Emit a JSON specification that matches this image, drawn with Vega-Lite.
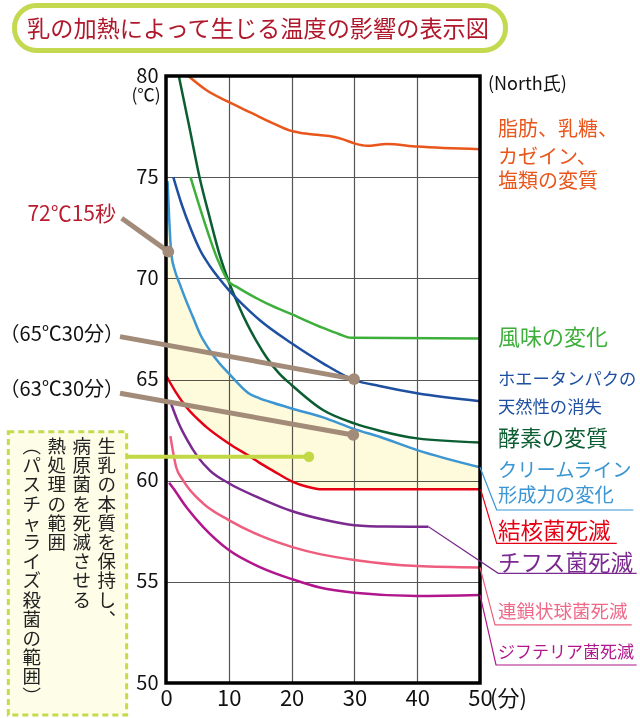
{
  "$schema": "https://vega.github.io/schema/vega-lite/v6.json",
  "width": 314,
  "height": 607,
  "autosize": {"type": "none"},
  "padding": {"left": 166, "top": 76, "right": 160, "bottom": 35},
  "background": "white",
  "config": {
    "font": "Noto Sans CJK JP",
    "view": {"stroke": null},
    "axisX": {"tickCount": 5, "grid": true, "gridColor": "#555", "gridWidth": 1.2, "ticks": false, "domain": false,
      "labelFontSize": 22, "labelPadding": 5, "labelColor": "#111", "labelFlush": false, "labelOverlap": false, "labelBound": false, "labelFont": "Noto Sans CJK JP"},
    "axisY": {"tickCount": 6, "grid": true, "gridColor": "#555", "gridWidth": 1.2, "ticks": false, "domain": false,
      "labelFontSize": 20, "labelPadding": 8, "labelColor": "#111", "labelFlush": false, "labelOverlap": false, "labelBound": false, "labelFont": "Noto Sans CJK JP"}
  },
  "resolve": {"scale": {"color": "independent"}},
  "datasets": {
    "fill": [
      {"x": 0.25, "top": 74.8, "bot": 65.1},
      {"x": 0.5, "top": 73.0, "bot": 65.0},
      {"x": 0.85, "top": 71.2, "bot": 64.8},
      {"x": 1.4, "top": 70.4, "bot": 64.45},
      {"x": 2.15, "top": 69.75, "bot": 64.1},
      {"x": 3.2, "top": 68.9, "bot": 63.65},
      {"x": 4.27, "top": 68.1, "bot": 63.25},
      {"x": 5.5, "top": 67.2, "bot": 62.9},
      {"x": 6.94, "top": 66.46, "bot": 62.5},
      {"x": 8.5, "top": 65.8, "bot": 62.15},
      {"x": 10, "top": 65.3, "bot": 61.84},
      {"x": 11.5, "top": 64.8, "bot": 61.5},
      {"x": 13.04, "top": 64.35, "bot": 61.2},
      {"x": 14.9, "top": 64.07, "bot": 60.88},
      {"x": 16.5, "top": 63.9, "bot": 60.6},
      {"x": 20, "top": 63.57, "bot": 59.97},
      {"x": 22.5, "top": 63.35, "bot": 59.7},
      {"x": 25, "top": 63.13, "bot": 59.57},
      {"x": 30, "top": 62.55, "bot": 59.57},
      {"x": 34, "top": 62.17, "bot": 59.57},
      {"x": 40, "top": 61.51, "bot": 59.57},
      {"x": 50, "top": 60.66, "bot": 59.57}
    ],
    "curves": [
      {"s": "fat", "x": 3.55, "y": 80},
      {"s": "fat", "x": 6.4, "y": 79.31},
      {"s": "fat", "x": 9.87, "y": 78.73},
      {"s": "fat", "x": 13.7, "y": 78.16},
      {"s": "fat", "x": 16.8, "y": 77.7},
      {"s": "fat", "x": 19.8, "y": 77.3},
      {"s": "fat", "x": 21.3, "y": 77.2},
      {"s": "fat", "x": 24.4, "y": 77.08},
      {"s": "fat", "x": 26.6, "y": 77.0},
      {"s": "fat", "x": 28.2, "y": 76.87},
      {"s": "fat", "x": 30, "y": 76.67},
      {"s": "fat", "x": 32, "y": 76.55},
      {"s": "fat", "x": 35.1, "y": 76.64},
      {"s": "fat", "x": 40, "y": 76.51},
      {"s": "fat", "x": 50, "y": 76.38},

      {"s": "enzyme", "x": 2.04, "y": 80},
      {"s": "enzyme", "x": 3.7, "y": 77.5},
      {"s": "enzyme", "x": 5.34, "y": 75},
      {"s": "enzyme", "x": 7, "y": 72.95},
      {"s": "enzyme", "x": 8.5, "y": 71.2},
      {"s": "enzyme", "x": 10, "y": 69.83},
      {"s": "enzyme", "x": 11.5, "y": 68.7},
      {"s": "enzyme", "x": 13, "y": 67.7},
      {"s": "enzyme", "x": 14.5, "y": 66.85},
      {"s": "enzyme", "x": 16, "y": 66.1},
      {"s": "enzyme", "x": 18, "y": 65.3},
      {"s": "enzyme", "x": 20, "y": 64.73},
      {"s": "enzyme", "x": 25, "y": 63.49},
      {"s": "enzyme", "x": 30, "y": 62.83},
      {"s": "enzyme", "x": 34, "y": 62.47},
      {"s": "enzyme", "x": 40, "y": 62.09},
      {"s": "enzyme", "x": 50, "y": 61.89},

      {"s": "flavor", "x": 3.9, "y": 75},
      {"s": "flavor", "x": 6, "y": 72.9},
      {"s": "flavor", "x": 8.26, "y": 70.9},
      {"s": "flavor", "x": 10, "y": 69.83},
      {"s": "flavor", "x": 11.26, "y": 69.58},
      {"s": "flavor", "x": 13.5, "y": 69.17},
      {"s": "flavor", "x": 16.03, "y": 68.76},
      {"s": "flavor", "x": 20.27, "y": 68.19},
      {"s": "flavor", "x": 25, "y": 67.55},
      {"s": "flavor", "x": 27.5, "y": 67.25},
      {"s": "flavor", "x": 29.5, "y": 67.06},
      {"s": "flavor", "x": 50, "y": 67.03},

      {"s": "whey", "x": 1.16, "y": 75},
      {"s": "whey", "x": 2.5, "y": 73.65},
      {"s": "whey", "x": 4, "y": 72.4},
      {"s": "whey", "x": 5.5, "y": 71.35},
      {"s": "whey", "x": 7, "y": 70.6},
      {"s": "whey", "x": 8.5, "y": 69.98},
      {"s": "whey", "x": 10, "y": 69.42},
      {"s": "whey", "x": 12.4, "y": 68.65},
      {"s": "whey", "x": 14.9, "y": 67.94},
      {"s": "whey", "x": 20, "y": 66.79},
      {"s": "whey", "x": 25, "y": 65.8},
      {"s": "whey", "x": 30, "y": 64.97},
      {"s": "whey", "x": 34, "y": 64.68},
      {"s": "whey", "x": 40, "y": 64.32},
      {"s": "whey", "x": 50, "y": 63.93},

      {"s": "cream", "x": 0.25, "y": 74.8},
      {"s": "cream", "x": 0.5, "y": 73.0},
      {"s": "cream", "x": 0.85, "y": 71.2},
      {"s": "cream", "x": 1.4, "y": 70.4},
      {"s": "cream", "x": 2.15, "y": 69.75},
      {"s": "cream", "x": 3.2, "y": 68.9},
      {"s": "cream", "x": 4.27, "y": 68.1},
      {"s": "cream", "x": 5.5, "y": 67.2},
      {"s": "cream", "x": 6.94, "y": 66.46},
      {"s": "cream", "x": 8.5, "y": 65.8},
      {"s": "cream", "x": 10, "y": 65.3},
      {"s": "cream", "x": 11.5, "y": 64.8},
      {"s": "cream", "x": 13.04, "y": 64.35},
      {"s": "cream", "x": 14.9, "y": 64.07},
      {"s": "cream", "x": 16.5, "y": 63.9},
      {"s": "cream", "x": 20, "y": 63.57},
      {"s": "cream", "x": 25, "y": 63.13},
      {"s": "cream", "x": 30, "y": 62.55},
      {"s": "cream", "x": 34, "y": 62.17},
      {"s": "cream", "x": 40, "y": 61.51},
      {"s": "cream", "x": 50, "y": 60.66},

      {"s": "tb", "x": 0.1, "y": 65.15},
      {"s": "tb", "x": 1.5, "y": 64.4},
      {"s": "tb", "x": 3.2, "y": 63.65},
      {"s": "tb", "x": 6.4, "y": 62.66},
      {"s": "tb", "x": 10, "y": 61.84},
      {"s": "tb", "x": 13.85, "y": 61.1},
      {"s": "tb", "x": 14.9, "y": 60.88},
      {"s": "tb", "x": 17, "y": 60.5},
      {"s": "tb", "x": 20, "y": 59.97},
      {"s": "tb", "x": 22.5, "y": 59.7},
      {"s": "tb", "x": 24.8, "y": 59.57},
      {"s": "tb", "x": 50, "y": 59.57},

      {"s": "typhoid", "x": 0.7, "y": 63.9},
      {"s": "typhoid", "x": 2, "y": 62.85},
      {"s": "typhoid", "x": 3.3, "y": 62.05},
      {"s": "typhoid", "x": 5, "y": 61.2},
      {"s": "typhoid", "x": 7, "y": 60.5},
      {"s": "typhoid", "x": 10, "y": 59.87},
      {"s": "typhoid", "x": 15, "y": 59.13},
      {"s": "typhoid", "x": 20, "y": 58.5},
      {"s": "typhoid", "x": 25, "y": 58.08},
      {"s": "typhoid", "x": 30, "y": 57.8},
      {"s": "typhoid", "x": 35, "y": 57.73},
      {"s": "typhoid", "x": 41.8, "y": 57.72},

      {"s": "strep", "x": 0.7, "y": 62.2},
      {"s": "strep", "x": 1.6, "y": 60.69},
      {"s": "strep", "x": 2.7, "y": 60.03},
      {"s": "strep", "x": 5.9, "y": 58.88},
      {"s": "strep", "x": 10, "y": 58.05},
      {"s": "strep", "x": 15.4, "y": 57.23},
      {"s": "strep", "x": 20, "y": 56.73},
      {"s": "strep", "x": 24.5, "y": 56.37},
      {"s": "strep", "x": 30, "y": 56.08},
      {"s": "strep", "x": 40, "y": 55.78},
      {"s": "strep", "x": 50, "y": 55.71},

      {"s": "diph", "x": 0.5, "y": 59.9},
      {"s": "diph", "x": 1.1, "y": 59.65},
      {"s": "diph", "x": 3.2, "y": 58.71},
      {"s": "diph", "x": 5.9, "y": 57.72},
      {"s": "diph", "x": 10, "y": 56.57},
      {"s": "diph", "x": 15.4, "y": 55.67},
      {"s": "diph", "x": 20, "y": 55.14},
      {"s": "diph", "x": 24.5, "y": 54.72},
      {"s": "diph", "x": 30, "y": 54.46},
      {"s": "diph", "x": 40, "y": 54.3},
      {"s": "diph", "x": 50, "y": 54.35}
    ],
    "frame": [{"x1": 0, "x2": 50, "y1": 50, "y2": 80}],
    "leaders": [
      {"s": "cream", "x": 50, "y": 60.66},
      {"s": "cream", "x": 52.66, "y": 58.55},
      {"s": "cream", "x": 74.41, "y": 58.55},
      {"s": "tb", "x": 50.1, "y": 59.57},
      {"s": "tb", "x": 52.66, "y": 56.9},
      {"s": "tb", "x": 71.77, "y": 56.9},
      {"s": "typhoid", "x": 41.8, "y": 57.72},
      {"s": "typhoid", "x": 52.91, "y": 55.42},
      {"s": "typhoid", "x": 74.95, "y": 55.42},
      {"s": "strep", "x": 50, "y": 55.71},
      {"s": "strep", "x": 52.39, "y": 52.87},
      {"s": "strep", "x": 74.16, "y": 52.87},
      {"s": "diph", "x": 50, "y": 54.35},
      {"s": "diph", "x": 52.55, "y": 50.89},
      {"s": "diph", "x": 74.95, "y": 50.89}
    ],
    "ann": [
      {"a": "72", "x": -7.05, "y": 72.97},
      {"a": "72", "x": 0.37, "y": 71.32},
      {"a": "65", "x": -7.32, "y": 67.12},
      {"a": "65", "x": 29.94, "y": 65.02},
      {"a": "63", "x": -7.32, "y": 64.32},
      {"a": "63", "x": 29.82, "y": 62.26}
    ],
    "anndots": [
      {"x": 0.37, "y": 71.32},
      {"x": 29.94, "y": 65.02},
      {"x": 29.82, "y": 62.26}
    ],
    "box": [{"x1": -25.11, "x2": -6.26, "y1": 62.42, "y2": 48.42}],
    "pointer": [{"x": -6.26, "y": 61.18}, {"x": 22.77, "y": 61.18}],
    "pointerdot": [{"x": 22.77, "y": 61.18}],
    "vtext": [
      {"t": ["生", "乳", "の", "本", "質", "を", "保", "持", "し", "︑"], "x": -9.44, "y": 62.11},
      {"t": ["病", "原", "菌", "を", "死", "滅", "さ", "せ", "る"], "x": -13.42, "y": 62.11},
      {"t": ["熱", "処", "理", "の", "範", "囲"], "x": -17.4, "y": 62.11},
      {"t": ["︵", "パ", "ス", "チ", "ャ", "ラ", "イ", "ズ", "殺", "菌", "の", "範", "囲", "︶"], "x": -21.39, "y": 62.11}
    ],
    "labels": [
      {"s": "fat", "t": "脂肪、乳糖、", "x": 52.87, "y": 77.33},
      {"s": "fat", "t": "カゼイン、", "x": 52.87, "y": 75.97},
      {"s": "fat", "t": "塩類の変質", "x": 52.87, "y": 74.74},
      {"s": "flavor", "t": "風味の変化", "x": 52.87, "y": 67.03},
      {"s": "whey", "t": "ホエータンパクの", "x": 52.87, "y": 64.97},
      {"s": "whey", "t": "天然性の消失", "x": 52.87, "y": 63.61},
      {"s": "enzyme", "t": "酵素の変質", "x": 52.87, "y": 62.06},
      {"s": "cream", "t": "クリームライン", "x": 52.87, "y": 60.49},
      {"s": "cream", "t": "形成力の変化", "x": 52.87, "y": 59.25},
      {"s": "tb", "t": "結核菌死滅", "x": 52.87, "y": 57.47},
      {"s": "typhoid", "t": "チフス菌死滅", "x": 52.87, "y": 55.88},
      {"s": "strep", "t": "連鎖状球菌死滅", "x": 52.87, "y": 53.52},
      {"s": "diph", "t": "ジフテリア菌死滅", "x": 52.87, "y": 51.46}
    ],
    "leftred": [{"t": "72℃15秒", "x": -7.96, "y": 73.13}],
    "leftblack": [
      {"t": "（65℃30分）", "x": -6.69, "y": 67.2},
      {"t": "（63℃30分）", "x": -6.69, "y": 64.48}
    ],
    "units": [
      {"t": "(℃)", "x": -5.5, "y": 79.01},
      {"t": "(分)", "x": 51.6, "y": 49.21},
      {"t": "(North氏)", "x": 51.27, "y": 79.56}
    ],
    "pill": [{"x1": -24.12, "x2": 54.06, "y1": 83.48, "y2": 81.26}],
    "title": [{"t": "乳の加熱によって生じる温度の影響の表示図", "x": 14.65, "y": 82.27}]
  },
  "layer": [
    {
      "data": {"name": "fill"},
      "mark": {"type": "area", "interpolate": "monotone", "color": "#fefbdc", "blend": "multiply"},
      "encoding": {
        "x": {"field": "x", "type": "quantitative", "title": null,
          "scale": {"domain": [0, 50], "nice": false, "zero": false}},
        "y": {"field": "top", "type": "quantitative", "title": null,
          "scale": {"domain": [50, 80], "nice": false, "zero": false}},
        "y2": {"field": "bot"}
      }
    },
    {
      "data": {"name": "curves"},
      "mark": {"type": "line", "interpolate": "monotone", "strokeWidth": 2.5},
      "encoding": {
        "x": {"field": "x", "type": "quantitative", "title": null},
        "y": {"field": "y", "type": "quantitative", "title": null},
        "color": {"field": "s", "type": "nominal", "legend": null,
          "scale": {"domain": ["fat", "flavor", "whey", "enzyme", "cream", "tb", "typhoid", "strep", "diph"],
            "range": ["#e9561c", "#3eaf3a", "#1e4fa0", "#0b5e32", "#3b96d3", "#e60014", "#7a2a8e", "#ee5d7e", "#b1168c"]}}
      }
    },
    {
      "data": {"name": "frame"},
      "mark": {"type": "rect", "fill": "white", "fillOpacity": 0, "stroke": "#000", "strokeWidth": 3.5},
      "encoding": {
        "x": {"field": "x1", "type": "quantitative", "title": null},
        "x2": {"field": "x2"},
        "y": {"field": "y1", "type": "quantitative", "title": null},
        "y2": {"field": "y2"}
      }
    },
    {
      "data": {"name": "leaders"},
      "mark": {"type": "line", "strokeWidth": 1.2},
      "encoding": {
        "x": {"field": "x", "type": "quantitative", "title": null},
        "y": {"field": "y", "type": "quantitative", "title": null},
        "color": {"field": "s", "type": "nominal", "legend": null,
          "scale": {"domain": ["fat", "flavor", "whey", "enzyme", "cream", "tb", "typhoid", "strep", "diph"],
            "range": ["#e9561c", "#3eaf3a", "#1e4fa0", "#0b5e32", "#3b96d3", "#e60014", "#7a2a8e", "#ee5d7e", "#b1168c"]}}
      }
    },
    {
      "data": {"name": "ann"},
      "mark": {"type": "line", "strokeWidth": 5, "color": "#a38b79"},
      "encoding": {
        "x": {"field": "x", "type": "quantitative", "title": null},
        "y": {"field": "y", "type": "quantitative", "title": null},
        "detail": {"field": "a", "type": "nominal"}
      }
    },
    {
      "data": {"name": "anndots"},
      "mark": {"type": "point", "filled": true, "opacity": 1, "size": 140, "color": "#a38b79"},
      "encoding": {
        "x": {"field": "x", "type": "quantitative", "title": null},
        "y": {"field": "y", "type": "quantitative", "title": null}
      }
    },
    {
      "data": {"name": "box"},
      "mark": {"type": "rect", "fill": "#fdfde8", "stroke": "#c6da4a", "strokeWidth": 3, "strokeDash": [6, 4]},
      "encoding": {
        "x": {"field": "x1", "type": "quantitative", "title": null},
        "x2": {"field": "x2"},
        "y": {"field": "y1", "type": "quantitative", "title": null},
        "y2": {"field": "y2"}
      }
    },
    {
      "data": {"name": "pointer"},
      "mark": {"type": "line", "strokeWidth": 4, "color": "#c2d844"},
      "encoding": {
        "x": {"field": "x", "type": "quantitative", "title": null},
        "y": {"field": "y", "type": "quantitative", "title": null}
      }
    },
    {
      "data": {"name": "pointerdot"},
      "mark": {"type": "point", "filled": true, "opacity": 1, "size": 110, "color": "#c2d844"},
      "encoding": {
        "x": {"field": "x", "type": "quantitative", "title": null},
        "y": {"field": "y", "type": "quantitative", "title": null}
      }
    },
    {
      "data": {"name": "vtext"},
      "mark": {"type": "text", "align": "center", "baseline": "top", "fontSize": 18.5, "lineHeight": 19.2, "color": "#222"},
      "encoding": {
        "x": {"field": "x", "type": "quantitative", "title": null},
        "y": {"field": "y", "type": "quantitative", "title": null},
        "text": {"field": "t", "type": "nominal"}
      }
    },
    {
      "data": {"name": "labels"},
      "transform": [{"filter": {"field": "s", "oneOf": ["fat"]}}],
      "mark": {"type": "text", "align": "left", "baseline": "middle", "fontSize": 20, "color": "#e9561c"},
      "encoding": {
        "x": {"field": "x", "type": "quantitative", "title": null},
        "y": {"field": "y", "type": "quantitative", "title": null},
        "text": {"field": "t", "type": "nominal"}
      }
    },
    {
      "data": {"name": "labels"},
      "transform": [{"filter": {"field": "s", "oneOf": ["flavor"]}}],
      "mark": {"type": "text", "align": "left", "baseline": "middle", "fontSize": 22, "color": "#3eaf3a"},
      "encoding": {
        "x": {"field": "x", "type": "quantitative", "title": null},
        "y": {"field": "y", "type": "quantitative", "title": null},
        "text": {"field": "t", "type": "nominal"}
      }
    },
    {
      "data": {"name": "labels"},
      "transform": [{"filter": {"field": "s", "oneOf": ["whey"]}}],
      "mark": {"type": "text", "align": "left", "baseline": "middle", "fontSize": 17.3, "color": "#1e4fa0"},
      "encoding": {
        "x": {"field": "x", "type": "quantitative", "title": null},
        "y": {"field": "y", "type": "quantitative", "title": null},
        "text": {"field": "t", "type": "nominal"}
      }
    },
    {
      "data": {"name": "labels"},
      "transform": [{"filter": {"field": "s", "oneOf": ["enzyme"]}}],
      "mark": {"type": "text", "align": "left", "baseline": "middle", "fontSize": 22, "color": "#0b5e32"},
      "encoding": {
        "x": {"field": "x", "type": "quantitative", "title": null},
        "y": {"field": "y", "type": "quantitative", "title": null},
        "text": {"field": "t", "type": "nominal"}
      }
    },
    {
      "data": {"name": "labels"},
      "transform": [{"filter": {"field": "s", "oneOf": ["cream"]}}],
      "mark": {"type": "text", "align": "left", "baseline": "middle", "fontSize": 19.3, "color": "#3b96d3"},
      "encoding": {
        "x": {"field": "x", "type": "quantitative", "title": null},
        "y": {"field": "y", "type": "quantitative", "title": null},
        "text": {"field": "t", "type": "nominal"}
      }
    },
    {
      "data": {"name": "labels"},
      "transform": [{"filter": {"field": "s", "oneOf": ["tb"]}}],
      "mark": {"type": "text", "align": "left", "baseline": "middle", "fontSize": 22.5, "color": "#e60014"},
      "encoding": {
        "x": {"field": "x", "type": "quantitative", "title": null},
        "y": {"field": "y", "type": "quantitative", "title": null},
        "text": {"field": "t", "type": "nominal"}
      }
    },
    {
      "data": {"name": "labels"},
      "transform": [{"filter": {"field": "s", "oneOf": ["typhoid"]}}],
      "mark": {"type": "text", "align": "left", "baseline": "middle", "fontSize": 22.5, "color": "#7a2a8e"},
      "encoding": {
        "x": {"field": "x", "type": "quantitative", "title": null},
        "y": {"field": "y", "type": "quantitative", "title": null},
        "text": {"field": "t", "type": "nominal"}
      }
    },
    {
      "data": {"name": "labels"},
      "transform": [{"filter": {"field": "s", "oneOf": ["strep"]}}],
      "mark": {"type": "text", "align": "left", "baseline": "middle", "fontSize": 18.5, "color": "#ee6a88"},
      "encoding": {
        "x": {"field": "x", "type": "quantitative", "title": null},
        "y": {"field": "y", "type": "quantitative", "title": null},
        "text": {"field": "t", "type": "nominal"}
      }
    },
    {
      "data": {"name": "labels"},
      "transform": [{"filter": {"field": "s", "oneOf": ["diph"]}}],
      "mark": {"type": "text", "align": "left", "baseline": "middle", "fontSize": 17, "color": "#b1168c"},
      "encoding": {
        "x": {"field": "x", "type": "quantitative", "title": null},
        "y": {"field": "y", "type": "quantitative", "title": null},
        "text": {"field": "t", "type": "nominal"}
      }
    },
    {
      "data": {"name": "leftred"},
      "mark": {"type": "text", "align": "right", "baseline": "middle", "fontSize": 21, "color": "#b71c2f"},
      "encoding": {
        "x": {"field": "x", "type": "quantitative", "title": null},
        "y": {"field": "y", "type": "quantitative", "title": null},
        "text": {"field": "t", "type": "nominal"}
      }
    },
    {
      "data": {"name": "leftblack"},
      "mark": {"type": "text", "align": "right", "baseline": "middle", "fontSize": 20, "color": "#111"},
      "encoding": {
        "x": {"field": "x", "type": "quantitative", "title": null},
        "y": {"field": "y", "type": "quantitative", "title": null},
        "text": {"field": "t", "type": "nominal"}
      }
    },
    {
      "data": {"name": "units"},
      "transform": [{"filter": {"field": "t", "oneOf": ["(℃)"]}}],
      "mark": {"type": "text", "align": "left", "baseline": "middle", "fontSize": 17.5, "color": "#111"},
      "encoding": {
        "x": {"field": "x", "type": "quantitative", "title": null},
        "y": {"field": "y", "type": "quantitative", "title": null},
        "text": {"field": "t", "type": "nominal"}
      }
    },
    {
      "data": {"name": "units"},
      "transform": [{"filter": {"field": "t", "oneOf": ["(分)"]}}],
      "mark": {"type": "text", "align": "left", "baseline": "middle", "fontSize": 22, "color": "#111"},
      "encoding": {
        "x": {"field": "x", "type": "quantitative", "title": null},
        "y": {"field": "y", "type": "quantitative", "title": null},
        "text": {"field": "t", "type": "nominal"}
      }
    },
    {
      "data": {"name": "units"},
      "transform": [{"filter": {"field": "t", "oneOf": ["(North氏)"]}}],
      "mark": {"type": "text", "align": "left", "baseline": "middle", "fontSize": 18, "color": "#111"},
      "encoding": {
        "x": {"field": "x", "type": "quantitative", "title": null},
        "y": {"field": "y", "type": "quantitative", "title": null},
        "text": {"field": "t", "type": "nominal"}
      }
    },
    {
      "data": {"name": "pill"},
      "mark": {"type": "rect", "fill": "white", "stroke": "#c4d94f", "strokeWidth": 5, "cornerRadius": 22},
      "encoding": {
        "x": {"field": "x1", "type": "quantitative", "title": null},
        "x2": {"field": "x2"},
        "y": {"field": "y1", "type": "quantitative", "title": null},
        "y2": {"field": "y2"}
      }
    },
    {
      "data": {"name": "title"},
      "mark": {"type": "text", "align": "center", "baseline": "middle", "fontSize": 23.2, "color": "#b0182c"},
      "encoding": {
        "x": {"field": "x", "type": "quantitative", "title": null},
        "y": {"field": "y", "type": "quantitative", "title": null},
        "text": {"field": "t", "type": "nominal"}
      }
    }
  ]
}
